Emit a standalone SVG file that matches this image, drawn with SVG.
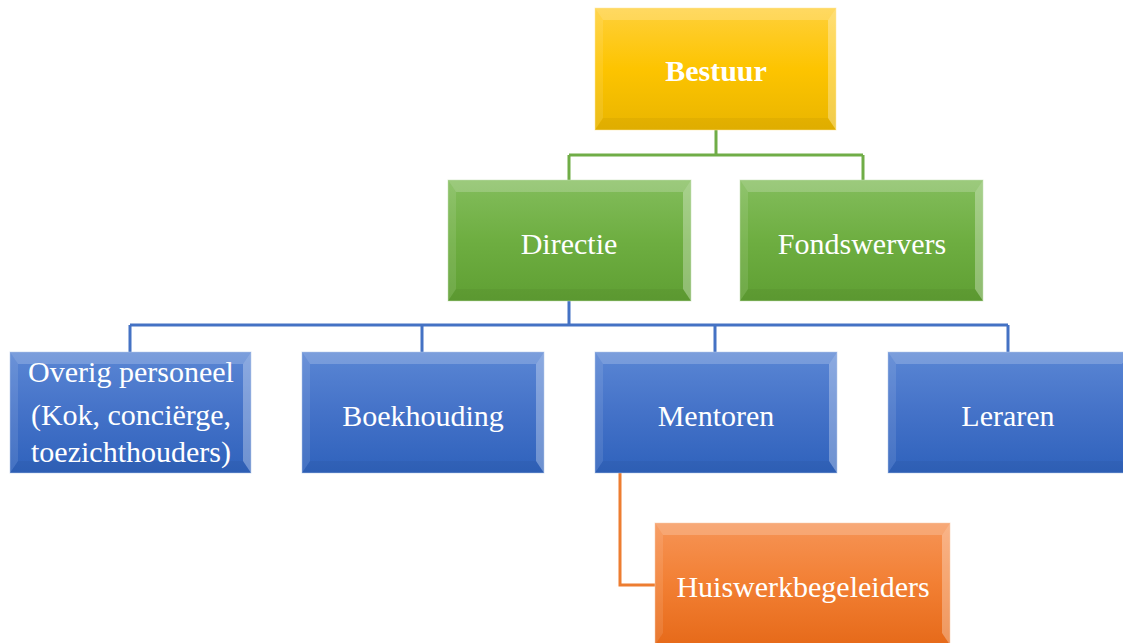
<svg xmlns="http://www.w3.org/2000/svg" width="1123" height="643" viewBox="0 0 1123 643">
<defs>
<linearGradient id="gY" x1="0" y1="0" x2="0" y2="1"><stop offset="0" stop-color="#ffd03a"/><stop offset="0.5" stop-color="#fdc400"/><stop offset="1" stop-color="#e9b500"/></linearGradient>
<linearGradient id="gG" x1="0" y1="0" x2="0" y2="1"><stop offset="0" stop-color="#83bd5c"/><stop offset="0.5" stop-color="#6eae41"/><stop offset="1" stop-color="#5f9f33"/></linearGradient>
<linearGradient id="gB" x1="0" y1="0" x2="0" y2="1"><stop offset="0" stop-color="#5a86d4"/><stop offset="0.5" stop-color="#4472c8"/><stop offset="1" stop-color="#2f62bc"/></linearGradient>
<linearGradient id="gO" x1="0" y1="0" x2="0" y2="1"><stop offset="0" stop-color="#f69456"/><stop offset="0.5" stop-color="#f27f33"/><stop offset="1" stop-color="#e66a1a"/></linearGradient>
</defs>
<style>
.t{font-family:"Liberation Serif","Times New Roman",serif;font-size:30px;fill:#fff;text-anchor:middle}
.b{font-weight:bold}
.top{fill:#fff;fill-opacity:0.2}
.lft{fill:#fff;fill-opacity:0.1}
.rgt{fill:#fff;fill-opacity:0.3}
.bot{fill:#000;fill-opacity:0.04}
.c{fill:none;stroke-width:3}
.cg{stroke:#70ad47}
.cb{stroke:#4472c4}
.co{stroke:#ed7d31}
.ed{fill:none;stroke-opacity:0.5;stroke-width:1}
</style>
<g id="connectors">
<path class="c cg" d="M716,130 V155 M569,155 H863 M569,155 V180 M863,155 V180"/>
<path class="c cb" d="M569,301 V325 M130,325 H1008 M130,325 V352 M422,325 V352 M715,325 V352 M1008,325 V352"/>
<path class="c co" d="M620,473 V585 H655"/>
</g>
<g id="bestuur">
<rect x="595" y="8" width="241" height="122" fill="url(#gY)"/>
<polygon class="top" points="595,8 836,8 828,20 603,20"/>
<polygon class="lft" points="595,8 603,20 603,118 595,130"/>
<polygon class="rgt" points="836,8 836,130 828,118 828,20"/>
<polygon class="bot" points="595,130 836,130 828,118 603,118"/>
<rect class="ed" x="595" y="8" width="241" height="122" stroke="#ffe9a0"/>
<text class="t b" x="716" y="81">Bestuur</text>
</g>
<g id="directie">
<rect x="448" y="180" width="243" height="121" fill="url(#gG)"/>
<polygon class="top" points="448,180 691,180 683,192 456,192"/>
<polygon class="lft" points="448,180 456,192 456,289 448,301"/>
<polygon class="rgt" points="691,180 691,301 683,289 683,192"/>
<polygon class="bot" points="448,301 691,301 683,289 456,289"/>
<rect class="ed" x="448" y="180" width="243" height="121" stroke="#c5e0b3"/>
<text class="t" x="569" y="254">Directie</text>
</g>
<g id="fondswervers">
<rect x="740" y="180" width="243" height="121" fill="url(#gG)"/>
<polygon class="top" points="740,180 983,180 975,192 748,192"/>
<polygon class="lft" points="740,180 748,192 748,289 740,301"/>
<polygon class="rgt" points="983,180 983,301 975,289 975,192"/>
<polygon class="bot" points="740,301 983,301 975,289 748,289"/>
<rect class="ed" x="740" y="180" width="243" height="121" stroke="#c5e0b3"/>
<text class="t" x="862" y="254">Fondswervers</text>
</g>
<g id="overig">
<rect x="10" y="352" width="241" height="121" fill="url(#gB)"/>
<polygon class="top" points="10,352 251,352 243,364 18,364"/>
<polygon class="lft" points="10,352 18,364 18,461 10,473"/>
<polygon class="rgt" points="251,352 251,473 243,461 243,364"/>
<polygon class="bot" points="10,473 251,473 243,461 18,461"/>
<rect class="ed" x="10" y="352" width="241" height="121" stroke="#b4c7e7"/>
<text class="t" x="131" y="382">Overig personeel</text>
<text class="t" x="131" y="425">(Kok, conciërge,</text>
<text class="t" x="131" y="462">toezichthouders)</text>
</g>
<g id="boekhouding">
<rect x="302" y="352" width="242" height="121" fill="url(#gB)"/>
<polygon class="top" points="302,352 544,352 536,364 310,364"/>
<polygon class="lft" points="302,352 310,364 310,461 302,473"/>
<polygon class="rgt" points="544,352 544,473 536,461 536,364"/>
<polygon class="bot" points="302,473 544,473 536,461 310,461"/>
<rect class="ed" x="302" y="352" width="242" height="121" stroke="#b4c7e7"/>
<text class="t" x="423" y="426">Boekhouding</text>
</g>
<g id="mentoren">
<rect x="595" y="352" width="242" height="121" fill="url(#gB)"/>
<polygon class="top" points="595,352 837,352 829,364 603,364"/>
<polygon class="lft" points="595,352 603,364 603,461 595,473"/>
<polygon class="rgt" points="837,352 837,473 829,461 829,364"/>
<polygon class="bot" points="595,473 837,473 829,461 603,461"/>
<rect class="ed" x="595" y="352" width="242" height="121" stroke="#b4c7e7"/>
<text class="t" x="716" y="426">Mentoren</text>
</g>
<g id="leraren">
<rect x="888" y="352" width="242" height="121" fill="url(#gB)"/>
<polygon class="top" points="888,352 1130,352 1122,364 896,364"/>
<polygon class="lft" points="888,352 896,364 896,461 888,473"/>
<polygon class="bot" points="888,473 1130,473 1122,461 896,461"/>
<rect class="ed" x="888" y="352" width="242" height="121" stroke="#b4c7e7"/>
<text class="t" x="1008" y="426">Leraren</text>
</g>
<g id="huiswerkbegeleiders">
<rect x="655" y="523" width="295" height="122" fill="url(#gO)"/>
<polygon class="top" points="655,523 950,523 942,535 663,535"/>
<polygon class="lft" points="655,523 663,535 663,633 655,645"/>
<polygon class="rgt" points="950,523 950,645 942,633 942,535"/>
<rect class="ed" x="655" y="523" width="295" height="122" stroke="#f8cbad"/>
<text class="t" x="803" y="597">Huiswerkbegeleiders</text>
</g>
</svg>
